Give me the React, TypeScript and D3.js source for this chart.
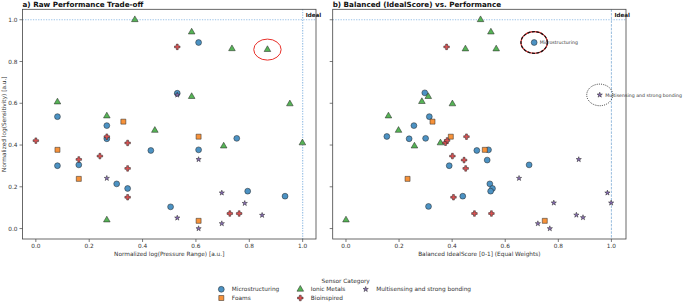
import React from "react";
import * as d3 from "d3";

const categories = ["Microstructuring", "Foams", "Ionic Metals", "Bioinspired", "Multisensing and strong bonding"];
const colors = ["#4c92c3", "#f7923a", "#56b356", "#de5253", "#8c6fba"];

// Left panel: [normalized log pressure range, normalized log sensitivity]
const leftMicro = [[0.61,0.891],[0.081,0.536],[0.53,0.648],[0.266,0.493],[0.081,0.301],[0.161,0.305],[0.266,0.43],[0.303,0.214],[0.344,0.192],[0.431,0.374],[0.61,0.377],[0.753,0.432],[0.794,0.179],[0.934,0.155],[0.505,0.104]];
const leftFoams = [[0.328,0.512],[0.081,0.377],[0.161,0.238],[0.61,0.44],[0.61,0.037]];
const leftIonic = [[0.371,1.0],[0.584,0.941],[0.735,0.861],[0.868,0.857],[0.081,0.606],[0.266,0.539],[0.584,0.632],[0.952,0.597],[0.446,0.47],[0.704,0.395],[0.999,0.41],[0.266,0.041]];
const leftBio = [[0.0,0.421],[0.161,0.331],[0.266,0.44],[0.24,0.347],[0.344,0.41],[0.344,0.288],[0.344,0.15],[0.53,0.87],[0.727,0.072],[0.762,0.072]];
const leftMulti = [[0.53,0.64],[0.266,0.241],[0.61,0.331],[0.697,0.171],[0.783,0.121],[0.53,0.051],[0.848,0.064],[0.61,0.0],[0.697,0.024]];

// Right panel: [balanced ideal score, normalized log sensitivity]
const rightMicro = [[0.709,0.891],[0.297,0.65],[0.314,0.536],[0.256,0.493],[0.154,0.441],[0.238,0.43],[0.3,0.432],[0.493,0.374],[0.537,0.377],[0.532,0.328],[0.69,0.305],[0.389,0.301],[0.542,0.214],[0.552,0.192],[0.545,0.179],[0.44,0.155],[0.311,0.106]];
const rightFoams = [[0.326,0.512],[0.395,0.44],[0.523,0.377],[0.232,0.238],[0.749,0.037]];
const rightIonic = [[0.507,1.0],[0.546,0.941],[0.45,0.86],[0.566,0.86],[0.31,0.632],[0.286,0.608],[0.401,0.597],[0.16,0.539],[0.198,0.47],[0.258,0.395],[0.356,0.41],[0.0,0.041]];
const rightBio = [[0.379,0.87],[0.375,0.411],[0.381,0.422],[0.454,0.44],[0.401,0.347],[0.445,0.328],[0.451,0.288],[0.405,0.15],[0.484,0.072],[0.548,0.072]];
const rightMulti = [[0.956,0.64],[0.877,0.331],[0.652,0.241],[0.783,0.123],[0.985,0.171],[0.999,0.123],[0.868,0.065],[0.893,0.053],[0.723,0.024],[0.768,0.0]];

const xTicks = [0, 0.2, 0.4, 0.6, 0.8, 1.0];
const yTicks = [0, 0.2, 0.4, 0.6, 0.8, 1.0];

const leftSeries = [leftMicro, leftFoams, leftIonic, leftBio, leftMulti];
const rightSeries = [rightMicro, rightFoams, rightIonic, rightBio, rightMulti];

const symbols = [d3.symbolCircle, d3.symbolSquare, d3.symbolTriangle, d3.symbolCross, d3.symbolStar];
const sizes = [27, 25, 19, 17, 8.5];
const FONT = "DejaVu Sans, sans-serif";

function markerPath(i: number) {
  return d3.symbol().type(symbols[i]).size(sizes[i])() as string;
}

const yScale = d3.scaleLinear().domain([-0.05, 1.05]).range([239, 9.3]);

function Panel({ x0, x1, xDomain, series, title, xLabel, showYLabels, vDash }: any) {
  const xs = d3.scaleLinear().domain(xDomain).range([x0, x1]);
  const top = yScale.range()[1];
  const bottom = yScale.range()[0];
  const fmt = d3.format(".1f");
  return (
    <g>
      <text x={x0} y={6.5} fontFamily={FONT} fontWeight="bold" fontSize={7.2} fill="#111">{title}</text>
      {/* ideal lines */}
      <line x1={x0} x2={x1} y1={yScale(1)} y2={yScale(1)} stroke="#9cc2e6" strokeWidth={1.2} strokeDasharray="1.3,1.3" />
      <line x1={xs(1)} x2={xs(1)} y1={top} y2={bottom} stroke={vDash ? "#6a9fd0" : "#9cc2e6"} strokeWidth={vDash ? 0.7 : 1.2} strokeDasharray={vDash ? "2.5,1.2" : "1.3,1.3"} />
      <text x={xs(1) + 3} y={yScale(1) - 3} fontFamily={FONT} fontWeight="bold" fontSize={5.6} fill="#111">Ideal</text>
      {/* frame */}
      <rect x={x0} y={top} width={x1 - x0} height={bottom - top} fill="none" stroke="#444" strokeWidth={0.8} />
      {xTicks.map((t) => (
        <g key={"x" + t}>
          <line x1={xs(t)} x2={xs(t)} y1={bottom} y2={bottom + 3} stroke="#444" strokeWidth={0.7} />
          <text x={xs(t)} y={bottom + 9} textAnchor="middle" fontFamily={FONT} fontSize={5.8} fill="#333">{fmt(t)}</text>
        </g>
      ))}
      {yTicks.map((t) => (
        <g key={"y" + t}>
          <line x1={x0 - 3} x2={x0} y1={yScale(t)} y2={yScale(t)} stroke="#444" strokeWidth={0.7} />
          {showYLabels && (
            <text x={x0 - 5} y={yScale(t) + 2} textAnchor="end" fontFamily={FONT} fontSize={5.8} fill="#333">{fmt(t)}</text>
          )}
        </g>
      ))}
      <text x={(x0 + x1) / 2} y={bottom + 17} textAnchor="middle" fontFamily={FONT} fontSize={5.8} fill="#333">{xLabel}</text>
      {series.map((pts: number[][], i: number) =>
        pts.map((p, j) => (
          <path key={i + "-" + j} d={markerPath(i)} transform={`translate(${xs(p[0])},${yScale(p[1])})`}
            fill={colors[i]} stroke="#222" strokeWidth={0.5} />
        ))
      )}
    </g>
  );
}

export default function App() {
  const lx = d3.scaleLinear().domain([-0.05, 1.05]).range([22.5, 316]);
  const rx = d3.scaleLinear().domain([-0.05, 1.055]).range([332.7, 626]);
  const legendCols = [
    { x: 221.3, items: [0, 1] },
    { x: 300.3, items: [2, 3] },
    { x: 365.7, items: [4] },
  ];
  const rowY = [289.3, 298];
  return (
    <svg width={685} height={302} style={{ display: "block", position: "absolute", left: 0, top: 0 }}>
      <rect width={685} height={302} fill="#fff" />
      <Panel x0={22.5} x1={316} xDomain={[-0.05, 1.05]} series={leftSeries}
        title="a) Raw Performance Trade-off" xLabel="Normalized log(Pressure Range) [a.u.]" showYLabels={true} vDash={false} />
      <Panel x0={332.7} x1={626} xDomain={[-0.05, 1.055]} series={rightSeries}
        title="b) Balanced (IdealScore) vs. Performance" xLabel="Balanced IdealScore [0-1] (Equal Weights)" showYLabels={false} vDash={true} />
      <text transform={`translate(6,${(9.3 + 239) / 2}) rotate(-90)`} textAnchor="middle" fontFamily={FONT} fontSize={5.8} fill="#333">
        Normalized log(Sensitivity) [a.u.]
      </text>
      {/* left highlight */}
      <ellipse cx={lx(0.868)} cy={yScale(0.857)} rx={13.7} ry={10.5} fill="none" stroke="#e8302a" strokeWidth={1} />
      {/* right highlights */}
      <ellipse cx={rx(0.709)} cy={yScale(0.891)} rx={13.2} ry={10.8} fill="none" stroke="#d42020" strokeWidth={1.2} />
      <ellipse cx={rx(0.709)} cy={yScale(0.891)} rx={13.2} ry={10.8} fill="none" stroke="#111" strokeWidth={1.2} strokeDasharray="3,1.5" />
      <text x={rx(0.709) + 5.5} y={yScale(0.891) + 1.6} fontFamily={FONT} fontSize={4.7} fill="#333">Microstructuring</text>
      <ellipse cx={rx(0.956)} cy={yScale(0.64)} rx={13} ry={10.8} fill="none" stroke="#222" strokeWidth={0.9} strokeDasharray="1,1.2" />
      <text x={rx(0.956) + 5.5} y={yScale(0.64) + 1.6} fontFamily={FONT} fontSize={4.7} fill="#333">Multisensing and strong bonding</text>
      {/* legend */}
      <text x={345.7} y={282.5} textAnchor="middle" fontFamily={FONT} fontSize={5.8} fill="#333">Sensor Category</text>
      {legendCols.map((c, ci) =>
        c.items.map((k, ri) => (
          <g key={ci + "-" + ri}>
            <path d={markerPath(k)} transform={`translate(${c.x},${rowY[ri]})`} fill={colors[k]} stroke="#222" strokeWidth={0.5} />
            <text x={c.x + 10.5} y={rowY[ri] + 2} fontFamily={FONT} fontSize={5.8} fill="#333">{categories[k]}</text>
          </g>
        ))
      )}
    </svg>
  );
}
